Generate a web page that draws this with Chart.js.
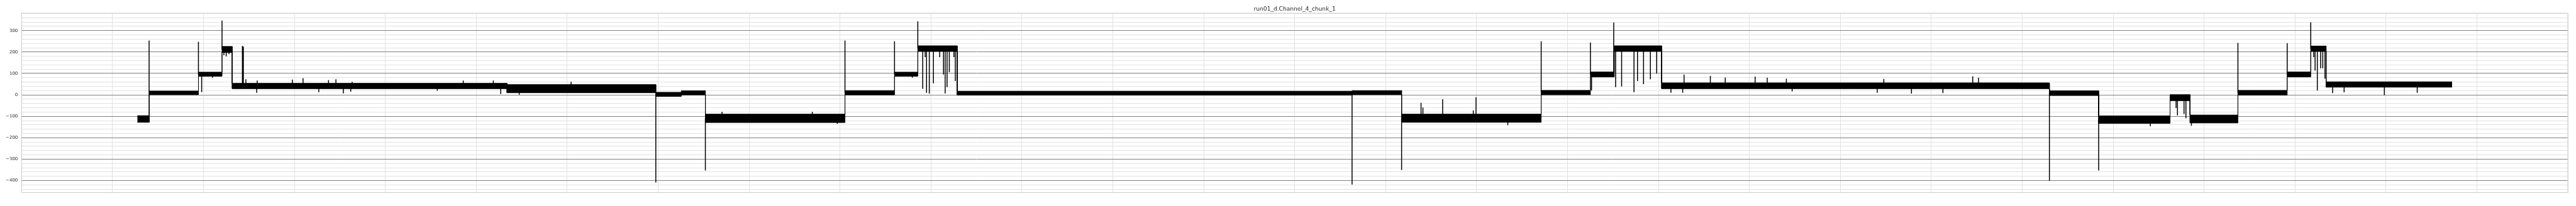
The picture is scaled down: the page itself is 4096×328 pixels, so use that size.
<!DOCTYPE html>
<html>
<head>
<meta charset="utf-8">
<script src="https://cdn.jsdelivr.net/npm/chart.js@4.4.1/dist/chart.umd.min.js"></script>
<style>
  html, body { margin: 0; padding: 0; background: #fff; }
</style>
</head>
<body>
<canvas id="myChart" width="4096" height="328"></canvas>
<script>
const chartTitle = 'run01_d.Channel_4_chunk_1';

// level boundaries (sample index), one more than the levels
const stepX = [500000, 502600, 513200, 518300, 520500, 579850, 612000, 617500, 622700, 652860,
  663560, 668590, 677100, 762400, 773090, 803240, 813880, 819030, 829260, 913020,
  923660, 939080, 943400, 953740, 964380, 969470, 972780, 1000000];
// noise band of each level (upper / lower edge)
const bandTop = [-97, 18, 106, 226, 54, 48, 12, 19, -90, 20, 106, 229, 17, 20, -90, 21, 107, 229, 56, 19, -98, 1, -94, 21, 107, 228, 61];
const bandBottom = [-128, 1, 87, 198, 29, 10, -7, 0, -129, 0, 87, 204, -1, 2, -128, 1, 84, 204, 29, -3, -133, -27, -131, -1, 84, 204, 36];

// short excursions: sample index and peak value
const spikeX = [502550, 513200, 513900, 516240, 518300, 518700, 519200, 519800, 522700, 522900,
  523450, 525800, 525900, 533500, 535800, 539200, 541300, 542900, 544500, 546100, 546400,
  564800, 570400, 576900, 578500, 582500, 593700, 612000, 622700, 626300, 645800, 651200, 652860,
  663560, 667400, 668590, 669650, 670180, 670480, 671070, 671960, 673320, 674140, 674500, 674910, 675390, 676390, 676690,
  762390, 773090, 777290, 777700, 781960, 788580, 789170, 796030,
  803240, 813880, 814120, 818910, 819320, 820620, 823290, 824050, 825350, 826830, 828190,
  831270, 833810, 834100, 839780, 843000, 849460, 852070, 856200, 857450, 875830, 877250, 883220, 890020, 896460, 897700,
  913020, 923660, 934820, 940380, 940680, 942100, 942510, 943690,
  953740, 964380, 969470, 970120, 970410, 970890, 971600, 972070, 972540,
  974200, 976680, 985370, 992470];
const spikeY = [254, 248, 13, 80, 347, 185, 180, 190, 228, 225,
  73, 10, 67, 71, 78, 13, 69, 73, 7, 15, 61,
  19, 67, 67, 4, 1, 61, -409, -353, -79, -79, -135, 254,
  250, 80, 343, 28, 176, 10, 6, 54, 176, 95, 7, 36, 106, 176, 65,
  -418, -351, -37, -59, -20, -72, -11, -141,
  250, 244, 21, 338, 36, 39, 13, 65, 50, 73, 99,
  10, 10, 95, 89, 81, 85, 80, 76, 16, 10, 74, 6, 8, 87, 80,
  -401, -353, -146, -61, -96, -90, -109, -144,
  243, 241, 339, 176, 113, 21, 124, 124, 76,
  8, 12, -1, 10];

// tick labels
const xTicks = [500000, 600000, 700000, 800000, 900000, 1000000];
const yTicks = [-400, -300, -200, -100, 0, 100, 200, 300];

// band edges as step lines
const topPts = [], botPts = [];
for (let i = 0; i < bandTop.length; i++) {
  topPts.push({x: stepX[i], y: bandTop[i]}, {x: stepX[i + 1], y: bandTop[i]});
  botPts.push({x: stepX[i], y: bandBottom[i]}, {x: stepX[i + 1], y: bandBottom[i]});
}

// each spike goes from the middle of its level to the peak
const spikePts = [];
spikeX.forEach((x, i) => {
  let s = 0;
  while (s < bandTop.length - 1 && stepX[s + 1] <= x) s++;
  const base = (bandTop[s] + bandBottom[s]) / 2;
  spikePts.push({x: x, y: base}, {x: x, y: spikeY[i]}, {x: x, y: null});
});

const frame = {
  id: 'frame',
  afterDatasetsDraw(chart) {
    const a = chart.chartArea, c = chart.ctx;
    c.save();
    c.strokeStyle = '#cccccc';
    c.lineWidth = 1;
    c.strokeRect(a.left, a.top, a.right - a.left, a.bottom - a.top);
    c.restore();
  },
  afterDraw(chart) {
    const a = chart.chartArea, c = chart.ctx;
    c.save();
    c.fillStyle = '#262626';
    c.font = '9.1px "DejaVu Sans"';
    c.textAlign = 'center';
    c.textBaseline = 'alphabetic';
    c.fillText(chartTitle, (a.left + a.right) / 2, 16.7);
    c.restore();
  }
};

const gridColor = (ctx, step) => {
  const v = ctx.tick ? ctx.tick.value : 1;
  return Math.abs(v % step) < 1e-6 ? '#808080' : '#e2e2e2';
};
const tickFont = {family: 'DejaVu Sans', size: 7};

const ctx = document.getElementById('myChart').getContext('2d');
const config = {
  type: 'line',
  data: {
    datasets: [
      {label: 'top', data: topPts, borderColor: '#000', backgroundColor: '#000', borderWidth: 1, fill: '+1', pointRadius: 0},
      {label: 'bottom', data: botPts, borderColor: '#000', borderWidth: 1, fill: false, pointRadius: 0},
      {label: 'spikes', data: spikePts, borderColor: '#000', borderWidth: 1.5, fill: false, pointRadius: 0}
    ]
  },
  options: {
    responsive: false,
    animation: false,
    devicePixelRatio: 1,
    layout: {padding: {top: 21, right: 13, left: 0, bottom: 0}},
    elements: {line: {tension: 0}},
    plugins: {
      legend: {display: false},
      title: {display: false},
      tooltip: {enabled: false}
    },
    scales: {
      x: {
        type: 'linear',
        min: 475000,
        max: 1025000,
        afterFit: s => { s.height = 21.5; },
        border: {display: false},
        grid: {drawTicks: false, lineWidth: 1, color: c => gridColor(c, 100000)},
        ticks: {
          stepSize: 20000, autoSkip: false, maxRotation: 0, includeBounds: false, padding: 3,
          color: '#262626', font: tickFont,
          callback: v => xTicks.includes(v) ? String(v) : ''
        }
      },
      y: {
        type: 'linear',
        min: -455.6,
        max: 381.3,
        afterFit: s => { s.width = 34.3; },
        border: {display: false},
        grid: {drawTicks: false, lineWidth: 1, color: c => gridColor(c, 100)},
        ticks: {
          stepSize: 20, autoSkip: false, includeBounds: false, padding: 6,
          color: '#262626', font: tickFont,
          callback: v => yTicks.includes(v) ? (v < 0 ? '\u2212' + Math.abs(v) : String(v)) : ''
        }
      }
    }
  },
  plugins: [frame]
};
const myChart = new Chart(ctx, config);
</script>
</body>
</html>
